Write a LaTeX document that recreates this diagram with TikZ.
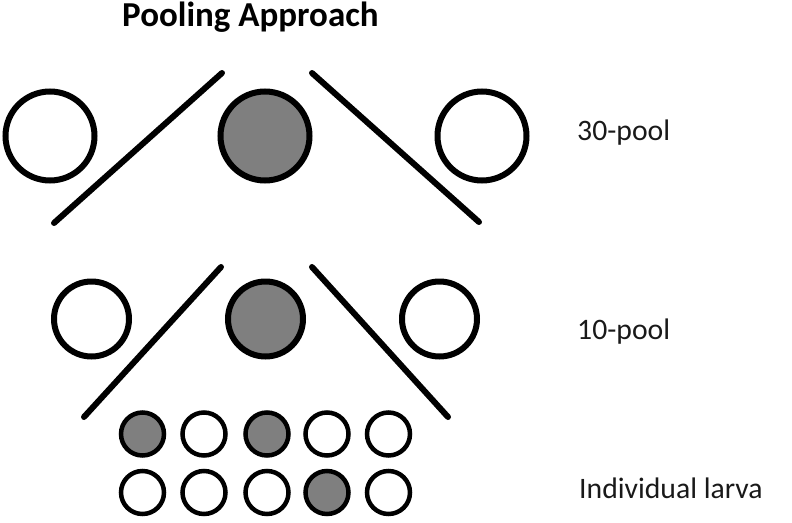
\documentclass[tikz,border=0pt]{standalone}
\usepackage{fontspec}
\setmainfont{Carlito}
\begin{document}
\begin{tikzpicture}[x=1pt,y=-1pt,
  big/.style={circle,draw=black,line width=6pt,minimum size=89pt,inner sep=0pt},
  mid/.style={circle,draw=black,line width=6pt,minimum size=75pt,inner sep=0pt},
  small/.style={circle,draw=black,line width=4.5pt,minimum size=43pt,inner sep=0pt},
  positive/.style={fill=gray50},
  divider/.style={line width=6pt,line cap=round},
  lbl/.style={anchor=base west,font=\fontsize{29.7}{32}\selectfont,text=black!90,inner sep=0pt},
  ttl/.style={anchor=base west,font=\fontsize{35}{38}\selectfont\bfseries,inner sep=0pt}]
\definecolor{gray50}{HTML}{7F7F7F}
\useasboundingbox (0,0) rectangle (792,522);
\node[ttl] (title) at (122,27) {Pooling Approach};
% row 1
\node[big] (a1) at (50,136) {};
\node[big,positive] (a2) at (265,136) {};
\node[big] (a3) at (482,136) {};
\coordinate (l1a) at (222,73); \coordinate (l1b) at (54,223);
\coordinate (r1a) at (312,73); \coordinate (r1b) at (479,222);
\draw[divider] (l1a) -- (l1b);
\draw[divider] (r1a) -- (r1b);
% row 2
\node[mid] (b1) at (91.5,319) {};
\node[mid,positive] (b2) at (265.5,319) {};
\node[mid] (b3) at (439.5,319) {};
\coordinate (l2a) at (221,267); \coordinate (l2b) at (84,417);
\coordinate (r2a) at (312,267); \coordinate (r2b) at (448,417);
\draw[divider] (l2a) -- (l2b);
\draw[divider] (r2a) -- (r2b);
% row 3
\node[small,positive] (c1) at (142.5,434) {};
\node[small] (c2) at (204,434) {};
\node[small,positive] (c3) at (267,434) {};
\node[small] (c4) at (327,434) {};
\node[small] (c5) at (388.5,434) {};
\node[small] (d1) at (142.5,492.5) {};
\node[small] (d2) at (204,492.5) {};
\node[small] (d3) at (267,492.5) {};
\node[small,positive] (d4) at (327,492.5) {};
\node[small] (d5) at (388.5,492.5) {};
% labels
\node[lbl] (t30) at (577,140) {30-pool};
\node[lbl] (t10) at (577,339) {10-pool};
\node[lbl] (tin) at (579,498) {Individual larva};
\end{tikzpicture}
\end{document}
